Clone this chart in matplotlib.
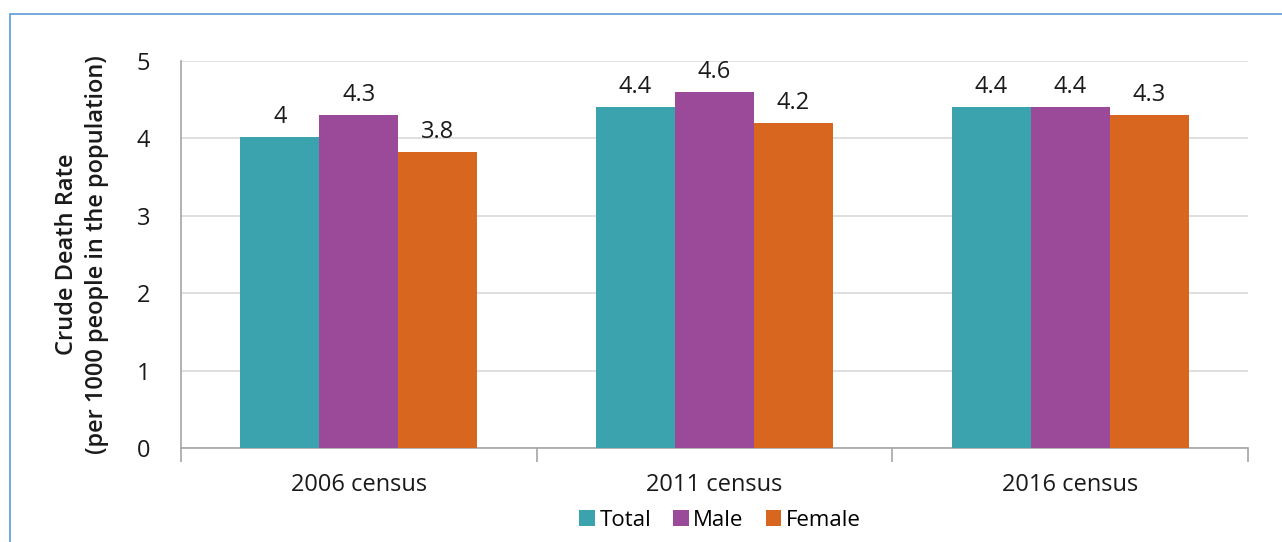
import matplotlib.pyplot as plt
import matplotlib.patches as mpatches
import numpy as np

plt.rcParams['font.family'] = ['Open Sans', 'DejaVu Sans']

# Data
censuses = ['2006 census', '2011 census', '2016 census']
total = [4.02, 4.4, 4.4]
male = [4.3, 4.6, 4.4]
female = [3.82, 4.2, 4.3]
total_lbl = ['4', '4.4', '4.4']
male_lbl = ['4.3', '4.6', '4.4']
female_lbl = ['3.8', '4.2', '4.3']
series = [('Total', total, total_lbl, '#3BA3AE'),
          ('Male', male, male_lbl, '#9B4A9A'),
          ('Female', female, female_lbl, '#D9661F')]

fig = plt.figure(figsize=(12.82, 5.42), dpi=100)
ax = fig.add_axes([181 / 1282, 1 - 448 / 542, (1248 - 181) / 1282, (448 - 61) / 542])

# outer frame (left and top edges visible)
fig.patches.append(mpatches.Rectangle((10 / 1282, -0.1), 1.2, 1 - 14 / 542 + 0.1,
                                      transform=fig.transFigure, fill=False,
                                      edgecolor='#5B9BD5', linewidth=1.2))

fs = 17
x = np.arange(len(censuses))
w = 0.222
for i, (name, vals, lbls, col) in enumerate(series):
    pos = x + (i - 1) * w
    bars = ax.bar(pos, vals, w, color=col, label=name, zorder=3)
    for b, t in zip(bars, lbls):
        ax.annotate(t, (b.get_x() + b.get_width() / 2, b.get_height()),
                    xytext=(0, 6), textcoords='offset points',
                    ha='center', va='bottom', fontsize=fs, color='#1a1a1a')

ax.set_xlim(-0.5, 2.5)
ax.set_ylim(0, 5)
ax.set_yticks(range(6))
ax.yaxis.grid(True, color='#d9d9d9', linewidth=1.2, zorder=0)
ax.set_axisbelow(True)
for s in ['top', 'right']:
    ax.spines[s].set_visible(False)
ax.spines['left'].set_color('#a6a6a6')
ax.spines['bottom'].set_color('#a6a6a6')
ax.spines['left'].set_linewidth(1.2)
ax.spines['bottom'].set_linewidth(1.2)

ax.set_xticks(x)
ax.set_xticklabels(censuses, fontsize=fs, color='#1a1a1a')
ax.tick_params(axis='x', length=0, pad=18)
ax.set_xticks([-0.5, 0.5, 1.5, 2.5], minor=True)
ax.tick_params(axis='x', which='minor', length=10, color='#a6a6a6', width=1.2)
ax.tick_params(axis='y', length=0, labelsize=fs, labelcolor='#1a1a1a', pad=22)

ax.set_ylabel('Crude Death Rate\n(per 1000 people in the population)',
              fontsize=fs, fontweight='semibold', labelpad=20, color='#1a1a1a',
              linespacing=1.35)

fig.legend(loc='center', bbox_to_anchor=(720 / 1282, 1 - 520 / 542), ncol=3,
           frameon=False, fontsize=16, handlelength=0.7, handleheight=0.7,
           handletextpad=0.2, columnspacing=1.0)

fig.savefig('out.png', dpi=100)
